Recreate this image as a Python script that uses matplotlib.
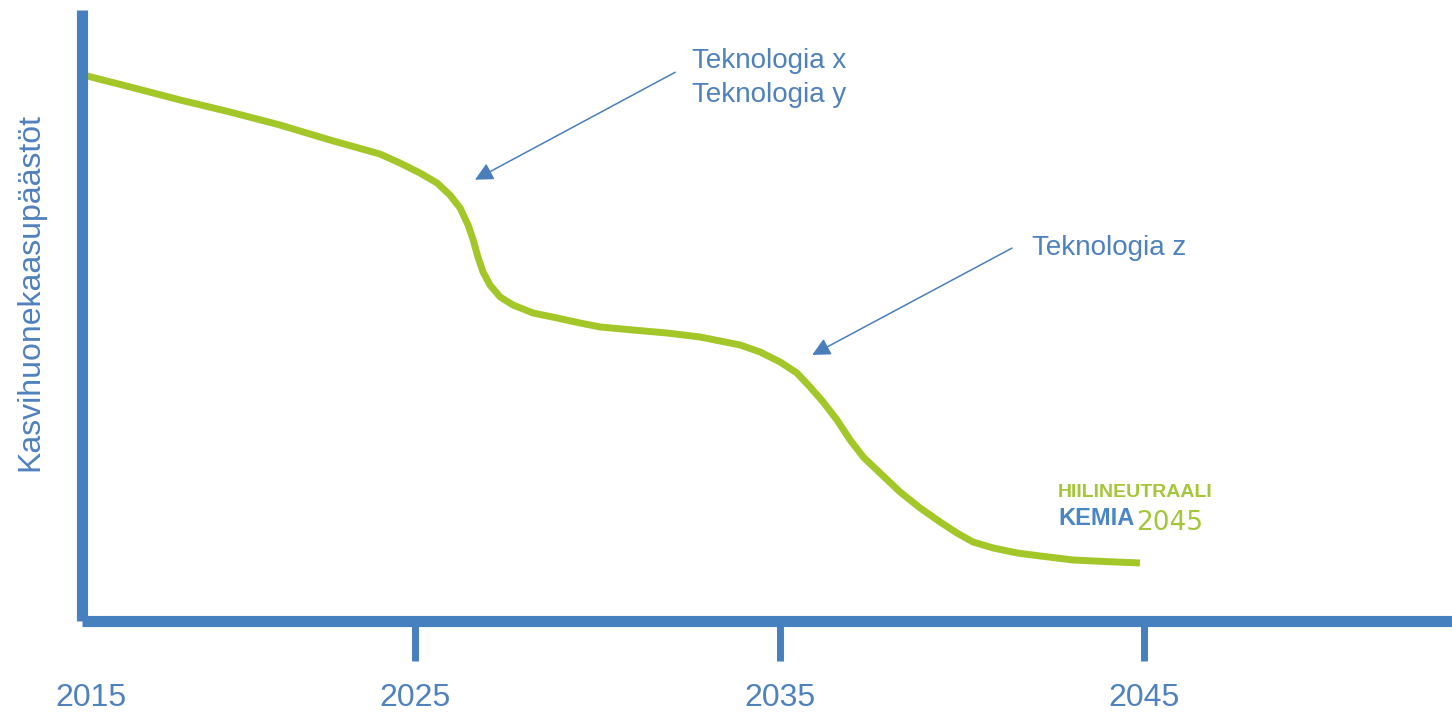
import matplotlib.pyplot as plt

# Emission pathway (schematic), years vs. relative emission level
years = [2016.00, 2017.18, 2018.55, 2019.92, 2021.29, 2022.66, 2024.03, 2024.58,
         2025.13, 2025.60, 2025.95, 2026.23, 2026.45, 2026.59, 2026.72, 2026.86,
         2027.05, 2027.33, 2027.68, 2028.23, 2028.89, 2029.52, 2030.07, 2030.98,
         2031.91, 2032.81, 2033.91, 2034.46, 2035.01, 2035.47, 2035.83, 2036.19,
         2036.57, 2036.93, 2037.29, 2037.75, 2038.30, 2038.85, 2039.40, 2039.86,
         2040.30, 2040.85, 2041.51, 2042.14, 2043.05, 2043.92, 2044.88]
emissions = [89.19, 87.39, 85.26, 83.29, 81.16, 78.71, 76.41, 74.94,
             73.30, 71.66, 69.70, 67.57, 64.78, 62.33, 59.54, 57.08,
             54.95, 52.99, 51.68, 50.37, 49.55, 48.73, 48.08, 47.58,
             47.09, 46.44, 45.13, 43.98, 42.34, 40.54, 38.25, 35.79,
             32.84, 29.57, 26.78, 24.16, 21.05, 18.43, 16.13, 14.33,
             12.86, 11.88, 11.06, 10.57, 9.91, 9.66, 9.42]

tick_years = [2025, 2035, 2045]
tick_labels = ['2025', '2035', '2045']
start_label = '2015'

# Annotations: text, text position, arrow tail, arrow tip
tech_xy_text = "Teknologia x\nTeknologia y"
tech_xy_pos = (2032.60, 88.85)
tech_xy_tail = (2032.13, 89.8)
tech_xy_tip = (2026.64, 72.2)

tech_z_text = "Teknologia z"
tech_z_pos = (2041.93, 61.0)
tech_z_tail = (2041.37, 61.0)
tech_z_tip = (2035.89, 43.5)

ylabel = "Kasvihuonekaasupäästöt"

BLUE = '#4680BE'
TEXT_BLUE = '#4F81BD'
GREEN = '#A3C729'

plt.rcParams['font.family'] = ['Liberation Sans', 'DejaVu Sans']

fig = plt.figure(figsize=(14.52, 7.15), dpi=100)
ax = fig.add_axes([81.5 / 1452, 94.5 / 715, 1 - 81.5 / 1452, 610.5 / 715])

ax.plot(years, emissions, color=GREEN, linewidth=5, solid_capstyle='butt',
        solid_joinstyle='round')

ax.set_xlim(2015.845, 2053.44)
ax.set_ylim(0, 100)

# axis styling: only thick left/bottom lines
for side in ['top', 'right']:
    ax.spines[side].set_visible(False)
for side in ['left', 'bottom']:
    ax.spines[side].set_color(BLUE)
    ax.spines[side].set_linewidth(8)
    ax.spines[side].set_capstyle('butt')

ax.set_yticks([])
ax.set_xticks(tick_years)
ax.set_xticklabels(tick_labels)
ax.tick_params(axis='x', direction='out', length=29, width=5, color=BLUE,
               labelcolor=TEXT_BLUE, labelsize=23, pad=16)

# start year sits at the origin, without a tick mark
ax.annotate(start_label, xy=(0, 0), xycoords='axes fraction',
            xytext=(9, -77), textcoords='offset pixels',
            ha='center', va='center', fontsize=23, color=TEXT_BLUE)

fig.text(30 / 1452, (715 - 292) / 715, ylabel, rotation=90, ha='center',
         va='center', fontsize=23, color=TEXT_BLUE)

arrow_kw = dict(arrowstyle='-|>,head_length=0.6,head_width=0.3',
                mutation_scale=18, color='#4A7EBB', linewidth=1.1,
                shrinkA=0, shrinkB=0)
ax.annotate('', xy=tech_xy_tip, xytext=tech_xy_tail, arrowprops=arrow_kw)
ax.annotate('', xy=tech_z_tip, xytext=tech_z_tail, arrowprops=arrow_kw)

ax.text(*tech_xy_pos, tech_xy_text, ha='left', va='center', fontsize=20,
        color=TEXT_BLUE, linespacing=1.36)
ax.text(*tech_z_pos, tech_z_text, ha='left', va='center', fontsize=20,
        color=TEXT_BLUE)

# logo text
fig.text(1058 / 1452, (715 - 497) / 715, "HIILINEUTRAALI", ha='left',
         va='baseline', fontsize=14, fontweight='bold', color='#A4C639')
kemia = fig.text(1058 / 1452, (715 - 525) / 715, "KEMIA", ha='left',
                 va='baseline', fontsize=17, fontweight='bold', color='#4A86C5')
ax.annotate("2045", xy=(1, 0), xycoords=kemia, xytext=(2, 0),
            textcoords='offset pixels', ha='left', va='baseline',
            fontsize=19, color='#A4C639', family=['DejaVu Sans'])

fig.savefig('out.png', dpi=100)
